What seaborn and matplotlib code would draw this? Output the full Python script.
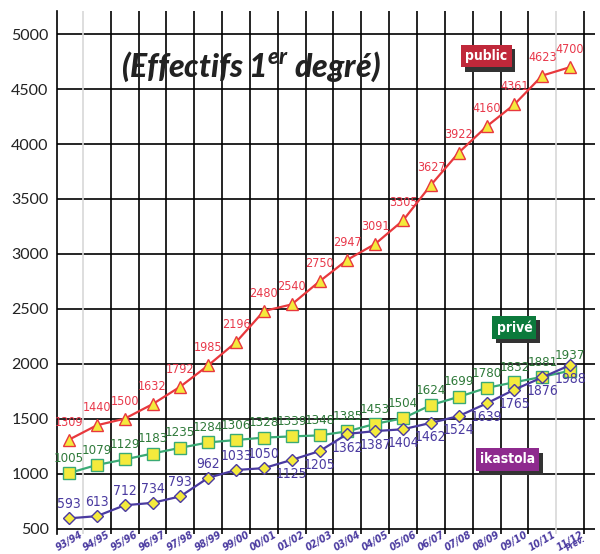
import matplotlib
matplotlib.use("Agg")
import matplotlib.pyplot as plt
import matplotlib.transforms as mtransforms
import seaborn as sns
import pandas as pd
import numpy as np

years = ["93/94", "94/95", "95/96", "96/97", "97/98", "98/99", "99/00", "00/01", "01/02",
         "02/03", "03/04", "04/05", "05/06", "06/07", "07/08", "08/09", "09/10", "10/11",
         "11/12\nPrév."]
public = [1309, 1440, 1500, 1632, 1792, 1985, 2196, 2480, 2540, 2750, 2947, 3091, 3305,
          3627, 3922, 4160, 4361, 4623, 4700]
prive = [1005, 1079, 1129, 1183, 1235, 1284, 1306, 1328, 1339, 1348, 1385, 1453, 1504,
         1624, 1699, 1780, 1832, 1881, 1937]
ikastola = [593, 613, 712, 734, 793, 962, 1033, 1050, 1125, 1205, 1362, 1387, 1404, 1462,
            1524, 1639, 1765, 1876, 1988]
yticks = [500, 1000, 1500, 2000, 2500, 3000, 3500, 4000, 4500, 5000]

sns.set_theme(style="white")
plt.rcParams['font.family'] = ['Lato', 'DejaVu Sans']

fig = plt.figure(figsize=(6.0, 5.54), dpi=100)
ax = fig.add_axes([0.095, 0.036, 0.897, 0.944])

xs = np.arange(len(years))
YEL = "#f4ea3c"
RED = "#e8383d"
GRN = "#3aaa75"
PUR = "#4a3aa0"
RED_T = "#e8384a"
GRN_T = "#2f7a3a"
PUR_T = "#4a3aa0"

# grid
for v in yticks:
    ax.axhline(v, color="black", lw=1.2, zorder=1)
for b in np.arange(0.5, 19, 1.0):
    c = "#d8d8d8" if b in (0.5, 17.5) else "black"
    ax.axvline(b, color=c, lw=1.2, zorder=1)

df = pd.DataFrame({"x": xs, "public": public, "prive": prive, "ikastola": ikastola})
sns.lineplot(data=df, x="x", y="public", ax=ax, color=RED, lw=1.6, marker="^",
             markersize=8, markerfacecolor=YEL, markeredgecolor=RED, markeredgewidth=1.0, zorder=5)
sns.lineplot(data=df, x="x", y="prive", ax=ax, color=GRN, lw=1.6, marker="s",
             markersize=8.5, markerfacecolor=YEL, markeredgecolor=GRN, markeredgewidth=1.0, zorder=5)
sns.lineplot(data=df, x="x", y="ikastola", ax=ax, color=PUR, lw=1.6, marker="D",
             markersize=6.5, markerfacecolor=YEL, markeredgecolor=PUR, markeredgewidth=1.0, zorder=5)

lab_font = ['DejaVu Sans']
kw = dict(family=lab_font, fontstretch="condensed", zorder=6, textcoords="offset points",
          ha="center")
for i in xs:
    ax.annotate(str(public[i]), (i, public[i]), xytext=(0, 8), va="bottom",
                fontsize=9, color=RED_T, **kw)
    ax.annotate(str(prive[i]), (i, prive[i]), xytext=(0, 6), va="bottom",
                fontsize=9.5, color=GRN_T, **kw)
    if i < 8:
        ax.annotate(str(ikastola[i]), (i, ikastola[i]), xytext=(0, 5), va="bottom",
                    fontsize=10, color=PUR_T, **kw)
    else:
        ax.annotate(str(ikastola[i]), (i, ikastola[i]), xytext=(0, -5), va="top",
                    fontsize=10, color=PUR_T, **kw)

ax.set_xlim(-0.43, 18.9)
ax.set_ylim(450, 5210)
ax.set_yticks(yticks)
ax.set_yticklabels([str(v) for v in yticks], fontsize=11.5, color="#222222")
ax.set_xticks(xs)
tick_main = [y.split("\n")[0] for y in years]
tick_font = dict(fontstyle="italic", fontweight="bold", family=['DejaVu Sans'],
                 fontstretch="condensed", color=PUR)
ax.set_xticklabels(tick_main, rotation=30, ha="center", fontsize=7.5, **tick_font)
# second line of the last label ("Prév."), smaller, as in the reference
extra = years[-1].split("\n")[1]
trans = mtransforms.blended_transform_factory(ax.transData, ax.transAxes)
ax.text(len(years) - 1 + 0.2, -0.019, extra, transform=trans, rotation=30, ha="center",
        va="center", fontsize=6, clip_on=False, **tick_font)
ax.tick_params(axis="x", length=0, pad=-3)
ax.tick_params(axis="y", length=0, pad=6)
ax.set_xlabel("")
ax.set_ylabel("")
for s in ["top", "right", "bottom"]:
    ax.spines[s].set_visible(False)
ax.spines["left"].set_color("black")
ax.spines["left"].set_linewidth(1.2)

ax.text(0.36, 0.893, r"(Effectifs 1$^{\mathregular{er}}$ degré)", transform=ax.transAxes,
        ha="center", va="center", fontsize=23, fontweight="black", fontstyle="italic",
        color="#222222")

def tag(x, y, s, col):
    ax.text(x + 0.12, y - 40, s, ha="center", va="center", fontsize=10, color="#333333",
            family=lab_font, fontstretch="condensed", fontweight="bold",
            bbox=dict(boxstyle="square,pad=0.3", fc="#333333", ec="none"), zorder=7)
    ax.text(x, y, s, ha="center", va="center", fontsize=10, color="white",
            family=lab_font, fontstretch="condensed", fontweight="bold",
            bbox=dict(boxstyle="square,pad=0.3", fc=col, ec="none"), zorder=8)

tag(15.0, 4800, "public", "#c0283a")
tag(16.0, 2330, "privé", "#0c7a3c")
tag(15.75, 1130, "ikastola", "#8e2a8e")

fig.savefig("out.png", dpi=100, facecolor="white")
